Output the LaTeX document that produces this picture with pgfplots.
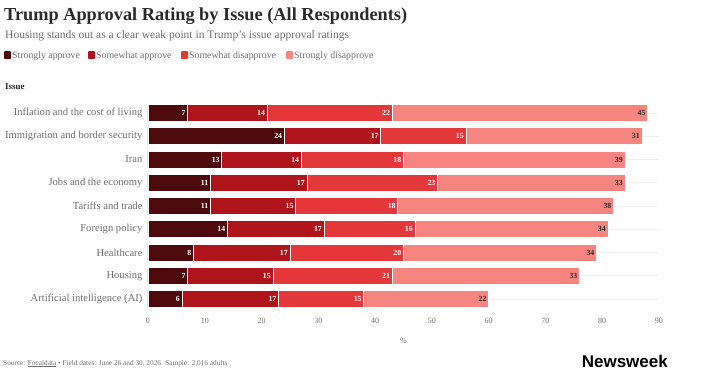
\documentclass[border=0pt]{standalone}
\usepackage{pgfplots}
\usepackage{pgfplotstable}
\pgfplotsset{compat=1.18}
\usepackage{fontspec}
\setmainfont{Liberation Serif}
\newfontfamily\logofont{Liberation Sans}
\definecolor{cSA}{HTML}{4D0A0C}
\definecolor{cWA}{HTML}{B0141B}
\definecolor{cWD}{HTML}{E3373A}
\definecolor{cSD}{HTML}{F6857F}
\definecolor{txtgray}{HTML}{6E6E6E}
\definecolor{titlecol}{HTML}{2A2A2A}
\pgfplotstableread{
idx sa wa wd sd
0 7 14 22 45
1 24 17 15 31
2 13 14 18 39
3 11 17 23 33
4 11 15 18 38
5 14 17 16 34
6 8 17 20 34
7 7 15 21 33
8 6 17 15 22
}\data
\pgfplotsset{myaxis/.style={
  at={(148pt,-101.4pt)}, anchor=north west,
  scale only axis, width=511pt, height=209.25pt,
  xmin=0, xmax=90, ymin=-0.5, ymax=8.5, y dir=reverse,
  /pgf/number format/assume math mode=true,
}}
\begin{document}
\begin{tikzpicture}
\path[use as bounding box] (0pt,0pt) rectangle (720pt,-378pt);
\node[anchor=base west, inner sep=0, text=titlecol, font=\fontsize{18.3}{20}\selectfont\bfseries] at (4pt,-20pt) {Trump Approval Rating by Issue (All Respondents)};
\node[anchor=base west, inner sep=0, text=txtgray, font=\fontsize{11.5}{13}\selectfont] at (5pt,-38pt) {Housing stands out as a clear weak point in Trump's issue approval ratings};
\begin{scope}[font=\fontsize{9.8}{11}\selectfont]
\fill[cSA, rounded corners=1pt] (4pt,-59pt) rectangle (11pt,-51pt);
\node[anchor=base west, inner sep=0, text=txtgray] at (12pt,-58.5pt) {Strongly approve};
\fill[cWA, rounded corners=1pt] (88pt,-59pt) rectangle (95pt,-51pt);
\node[anchor=base west, inner sep=0, text=txtgray] at (96pt,-58.5pt) {Somewhat approve};
\fill[cWD, rounded corners=1pt] (181pt,-59pt) rectangle (188pt,-51pt);
\node[anchor=base west, inner sep=0, text=txtgray] at (189pt,-58.5pt) {Somewhat disapprove};
\fill[cSD, rounded corners=1pt] (286pt,-59pt) rectangle (293pt,-51pt);
\node[anchor=base west, inner sep=0, text=txtgray] at (294pt,-58.5pt) {Strongly disapprove};
\end{scope}
\node[anchor=base west, inner sep=0, text=titlecol, font=\fontsize{9}{10}\selectfont\bfseries] at (5pt,-89pt) {Issue};
\begin{axis}[
  myaxis,
  xbar stacked, bar width=17pt,
  xtick={0,10,...,90},
  ytick={0,...,8},
  yticklabels={Inflation and the cost of living, Immigration and border security, Iran, Jobs and the economy, Tariffs and trade, Foreign policy, Healthcare, Housing, Artificial intelligence (AI)},
  axis line style={draw=none},
  major tick length=0pt,
  ymajorgrids, grid style={gray!12, line width=0.6pt},
  xticklabel style={text=txtgray, font=\fontsize{8}{9}\selectfont, yshift=-4pt},
  yticklabel style={text=txtgray, font=\fontsize{10.6}{12}\selectfont, xshift=-2pt},
  xlabel={\%}, xlabel style={text=txtgray, font=\fontsize{8}{9}\selectfont, yshift=-8pt},
  every axis plot/.append style={draw=white, line width=0.7pt},
]
\addplot[fill=cSA] table[x=sa, y=idx] {\data};
\addplot[fill=cWA] table[x=wa, y=idx] {\data};
\addplot[fill=cWD] table[x=wd, y=idx] {\data};
\addplot[fill=cSD] table[x=sd, y=idx] {\data};
\end{axis}
\begin{axis}[
  myaxis, hide axis,
  point meta=explicit,
  nodes near coords,
  nodes near coords style={anchor=east, font=\fontsize{7.8}{9}\selectfont\bfseries, text=white, inner sep=2pt},
]
\addplot[draw=none, mark=none] table[x=sa, y=idx, meta=sa] {\data};
\addplot[draw=none, mark=none] table[x expr=\thisrow{sa}+\thisrow{wa}, y=idx, meta=wa] {\data};
\addplot[draw=none, mark=none] table[x expr=\thisrow{sa}+\thisrow{wa}+\thisrow{wd}, y=idx, meta=wd] {\data};
\addplot[draw=none, mark=none, nodes near coords style={text=titlecol}] table[x expr=\thisrow{sa}+\thisrow{wa}+\thisrow{wd}+\thisrow{sd}, y=idx, meta=sd] {\data};
\end{axis}
\node[anchor=base west, inner sep=0, text=txtgray, font=\fontsize{7.3}{9}\selectfont] at (3pt,-365pt) {Source: \underline{Focaldata} \textbullet\ Field dates: June 26 and 30, 2026. Sample: 2,016 adults};
\node[anchor=base east, inner sep=0, text=black, font=\logofont\fontsize{17}{19}\selectfont\bfseries] at (668pt,-367pt) {Newsweek};
\end{tikzpicture}
\end{document}
